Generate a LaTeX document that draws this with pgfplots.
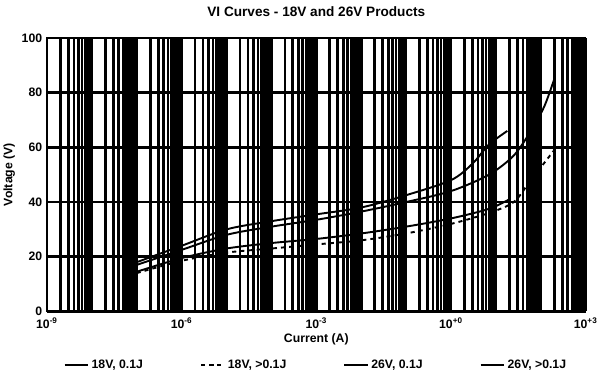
\documentclass[border=0pt]{standalone}
\usepackage{pgfplots}
\pgfplotsset{compat=1.18}
\usetikzlibrary{calc}
\usepackage{fontspec}
\setmainfont{Liberation Sans}
\begin{document}
\begin{tikzpicture}
\begin{axis}[
  scale only axis,
  width=396pt, height=201pt,
  xmode=log,
  xmin=1e-9, xmax=1e3,
  ymin=0, ymax=100,
  xtick={1e-9,1e-8,1e-7,1e-6,1e-5,1e-4,1e-3,1e-2,1e-1,1,1e1,1e2,1e3},
  xticklabels={10\textsuperscript{-9},,,10\textsuperscript{-6},,,10\textsuperscript{-3},,,10\textsuperscript{+0},,,10\textsuperscript{+3}},
  minor xtick={2e-9,3e-9,4e-9,5e-9,6e-9,7e-9,8e-9,9e-9,
    2e-8,3e-8,4e-8,5e-8,6e-8,7e-8,8e-8,9e-8,
    2e-7,3e-7,4e-7,5e-7,6e-7,7e-7,8e-7,9e-7,
    2e-6,3e-6,4e-6,5e-6,6e-6,7e-6,8e-6,9e-6,
    2e-5,3e-5,4e-5,5e-5,6e-5,7e-5,8e-5,9e-5,
    2e-4,3e-4,4e-4,5e-4,6e-4,7e-4,8e-4,9e-4,
    2e-3,3e-3,4e-3,5e-3,6e-3,7e-3,8e-3,9e-3,
    2e-2,3e-2,4e-2,5e-2,6e-2,7e-2,8e-2,9e-2,
    2e-1,3e-1,4e-1,5e-1,6e-1,7e-1,8e-1,9e-1,
    2,3,4,5,6,7,8,9,
    20,30,40,50,60,70,80,90,
    200,300,400,500,600,700,800,900},
  ytick={0,20,40,60,80,100},
  xmajorgrids, xminorgrids, ymajorgrids,
  major grid style={black, line width=2pt},
  minor grid style={black, line width=2pt},
  major tick length=0pt, minor tick length=0pt,
  axis line style={black, line width=1pt},
  tick label style={font=\bfseries\small},
  xticklabel style={yshift=-1pt},
  /pgf/number format/assume math mode=true,
  title={\bfseries VI Curves - 18V and 26V Products},
  title style={yshift=6pt},
  xlabel={\bfseries Current (A)},
  ylabel={\bfseries Voltage (V)},
  label style={font=\bfseries\small},
  xlabel style={yshift=3pt},
  ylabel style={yshift=-2pt},
  legend columns=4,
  legend style={draw=none, fill=none, at={(0.5,-0.155)}, anchor=north, font=\bfseries\small,
    /tikz/every even column/.append style={column sep=40pt}},
  legend image post style={line width=1.4pt},
]
\addplot[black, line width=1.4pt, smooth] coordinates {
 (1e-7,14.5) (1e-6,19.5) (1e-5,23) (1e-4,25) (1e-3,26.5) (1e-2,28.5) (1e-1,31) (1,34) (7,37.5) (20,41)};
\addlegendentry{18V, 0.1J}
\addplot[black, line width=1.4pt, dashed, smooth] coordinates {
 (1e-7,14) (1e-6,18.5) (1e-5,21.5) (1e-4,23) (1e-3,24.5) (1e-2,26) (1e-1,28.5) (1,32) (7,36) (25,40) (60,48) (200,59)};
\addlegendentry{18V, >0.1J}
\addplot[black, line width=1.4pt, smooth] coordinates {
 (1e-7,18) (1e-6,24) (1e-5,30) (1e-4,33) (1e-3,35.5) (1e-2,38) (1e-1,42.5) (1,48) (3,54) (7,61) (18,66)};
\addlegendentry{26V, 0.1J}
\addplot[black, line width=1.4pt, smooth] coordinates {
 (1e-7,17) (1e-6,22.5) (1e-5,28) (1e-4,31) (1e-3,33.5) (1e-2,36.5) (1e-1,40) (1,44) (7,50) (25,57) (60,66) (120,75) (200,85)};
\addlegendentry{26V, >0.1J}
\end{axis}
\pgfresetboundingbox
\path ($(current axis.south west)+(-34.5pt,-50.6pt)$) rectangle ($(current axis.north east)+(12pt,27.9pt)$);
\end{tikzpicture}
\end{document}
